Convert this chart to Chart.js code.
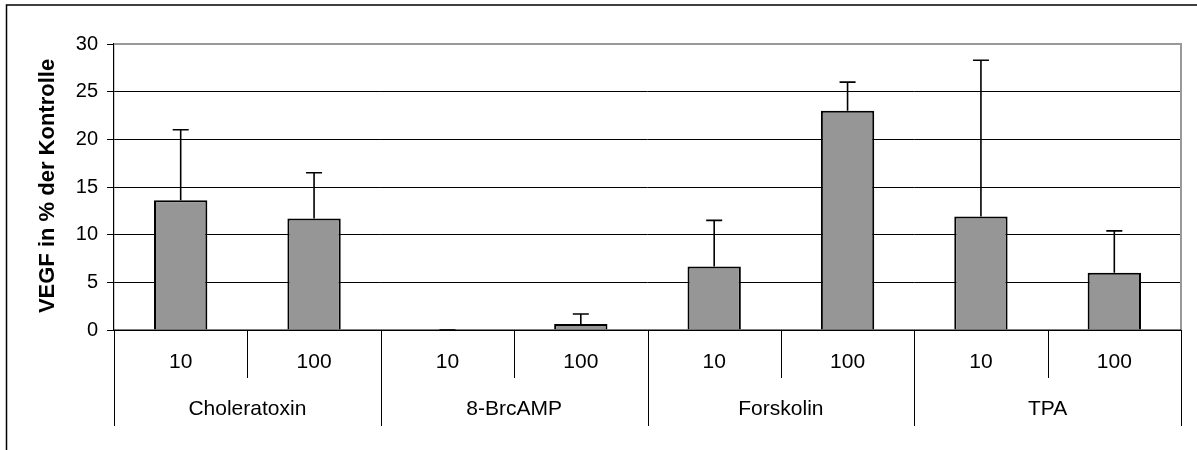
<!DOCTYPE html>
<html>
<head>
<meta charset="utf-8">
<script src="https://cdn.jsdelivr.net/npm/chart.js@4"></script>
<style>
  html, body { margin: 0; padding: 0; background: #fff; }
  #wrap { position: relative; width: 1197px; height: 450px; }
</style>
</head>
<body>
<div id="wrap"><canvas id="c" width="1197" height="450"></canvas></div>
<script>
const groups = ["Choleratoxin", "8-BrcAMP", "Forskolin", "TPA"];
const doses = ["10", "100", "10", "100", "10", "100", "10", "100"];
const means = [13.6, 11.7, 0, 0.63, 6.65, 23.0, 11.9, 6.0];
const errors = [7.4, 4.8, 0, 1.05, 4.85, 3.0, 16.4, 4.4];
const yTicks = [0, 5, 10, 15, 20, 25, 30];
const yTitle = "VEGF in % der Kontrolle";

const FONT = "'Liberation Sans', Arial, sans-serif";

const decorPlugin = {
  id: 'decor',
  beforeDraw(chart) {
    const ctx = chart.ctx;
    ctx.save();
    ctx.fillStyle = '#fff';
    ctx.fillRect(0, 0, chart.width, chart.height);
    // outer frame (top and left)
    ctx.strokeStyle = '#000';
    ctx.lineWidth = 1.5;
    ctx.beginPath();
    ctx.moveTo(6.5, 450);
    ctx.lineTo(6.5, 5);
    ctx.lineTo(1197, 5);
    ctx.stroke();
    ctx.restore();
  },
  afterDatasetsDraw(chart) {
    const ctx = chart.ctx;
    const x = chart.scales.x, y = chart.scales.y;
    const area = chart.chartArea;
    ctx.save();
    // plot-area border top and right (gray)
    ctx.strokeStyle = '#999';
    ctx.lineWidth = 2;
    ctx.beginPath();
    ctx.moveTo(area.left, area.top);
    ctx.lineTo(area.right, area.top);
    ctx.lineTo(area.right, area.bottom);
    ctx.stroke();

    // error bars (upper only)
    ctx.strokeStyle = '#000';
    ctx.lineWidth = 1.6;
    const meta = chart.getDatasetMeta(0);
    means.forEach((m, i) => {
      const cx = meta.data[i].x;
      const yb = y.getPixelForValue(m);
      const yt = y.getPixelForValue(m + errors[i]);
      ctx.beginPath();
      ctx.moveTo(cx, yb);
      ctx.lineTo(cx, yt);
      ctx.moveTo(cx - 8, yt);
      ctx.lineTo(cx + 8, yt);
      ctx.stroke();
    });

    // x-axis baseline
    ctx.strokeStyle = '#000';
    ctx.lineWidth = 1.2;
    ctx.beginPath();
    ctx.moveTo(area.left, area.bottom);
    ctx.lineTo(area.right, area.bottom);
    ctx.stroke();

    // category separators and labels
    const n = doses.length;
    const step = (area.right - area.left) / n;
    ctx.lineWidth = 1;
    ctx.beginPath();
    for (let i = 0; i <= n; i++) {
      const px = Math.round(area.left + i * step) + 0.5;
      const isGroup = (i % 2 === 0);
      ctx.moveTo(px, area.bottom);
      ctx.lineTo(px, area.bottom + (isGroup ? 96 : 48));
    }
    ctx.stroke();

    ctx.fillStyle = '#000';
    ctx.textAlign = 'center';
    ctx.textBaseline = 'middle';
    ctx.font = '21px ' + FONT;
    doses.forEach((d, i) => {
      ctx.fillText(d, x.getPixelForValue(i), area.bottom + 32);
    });
    groups.forEach((g, gi) => {
      const cx = area.left + (gi * 2 + 1) * step;
      ctx.fillText(g, cx, area.bottom + 79);
    });

    // y title
    ctx.save();
    ctx.translate(48, (area.top + area.bottom) / 2 - 1);
    ctx.rotate(-Math.PI / 2);
    ctx.font = 'bold 22px ' + FONT;
    ctx.fillText(yTitle, 0, 0);
    ctx.restore();

    ctx.restore();
  }
};

new Chart(document.getElementById('c'), {
  type: 'bar',
  data: {
    labels: doses.map((d, i) => groups[Math.floor(i / 2)] + ' ' + d),
    datasets: [{
      data: means,
      backgroundColor: '#969696',
      borderColor: '#000',
      borderWidth: 2,
      borderSkipped: 'bottom',
      categoryPercentage: 1.0,
      barPercentage: 0.4
    }]
  },
  options: {
    responsive: false,
    animation: false,
    devicePixelRatio: 1,
    layout: { padding: { left: 0, right: 16, top: 44, bottom: 0 } },
    plugins: { legend: { display: false }, tooltip: { enabled: false } },
    scales: {
      x: {
        ticks: { display: false },
        grid: { display: false, drawTicks: false },
        border: { display: false },
        afterFit(scale) { scale.height = 120; }
      },
      y: {
        min: 0, max: 30,
        afterBuildTicks(scale) { scale.ticks = yTicks.map(v => ({ value: v })); },
        ticks: {
          color: '#000',
          font: { family: FONT, size: 20 },
          padding: 9
        },
        grid: { color: '#000', lineWidth: 1, tickLength: 7, drawTicks: true },
        border: { display: true, color: '#000', width: 1.2 },
        afterFit(scale) { scale.width = 114; }
      }
    }
  },
  plugins: [decorPlugin]
});
</script>
</body>
</html>
